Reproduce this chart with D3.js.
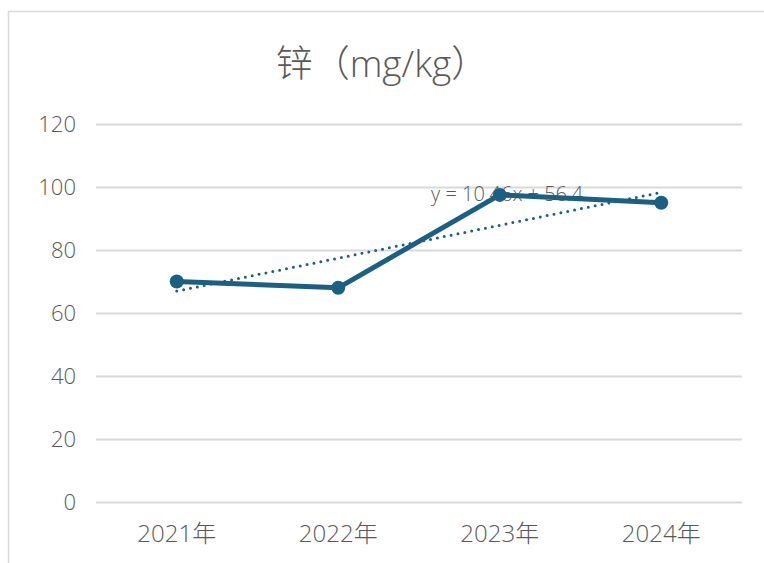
<!DOCTYPE html>
<html><head><meta charset="utf-8">
<script src="https://cdn.jsdelivr.net/npm/d3@7"></script>
<style>body{margin:0;background:#fff;}svg{display:block;}</style>
</head><body>
<script>
const categories = ["2021年","2022年","2023年","2024年"];
const values = [70, 68, 97.5, 95];
const yTicks = [0,20,40,60,80,100,120];
const title = "锌（mg/kg）";
const trendLabel = "y = 10.46x + 56.4";

const W=764,H=563;
const svg=d3.select("body").append("svg").attr("width",W).attr("height",H);
svg.append("rect").attr("x",8.5).attr("y",11.5).attr("width",W+20).attr("height",H+20)
  .attr("fill","#fff").attr("stroke","#d9d9d9").attr("stroke-width",1.5);

const x=d3.scaleBand().domain(categories).range([96,742]);
const y=d3.scaleLinear().domain([0,120]).range([502,124]);
const font="'Open Sans','Noto Sans CJK SC',sans-serif";

svg.append("text").attr("x",382).attr("y",77).attr("text-anchor","middle")
  .attr("font-family",font).attr("font-size",37).attr("font-weight",300).attr("fill","#595959").text(title);

const ya=svg.append("g").attr("transform","translate(96,0)")
  .call(d3.axisLeft(y).tickValues(yTicks).tickSize(-646).tickPadding(20));
ya.select(".domain").remove();
ya.selectAll(".tick line").attr("stroke","#d9d9d9").attr("stroke-width",2);
ya.selectAll(".tick text").attr("font-family",font).attr("font-size",22).attr("font-weight",300).attr("fill","#595959");

const xa=svg.append("g").attr("transform","translate(0,502)")
  .call(d3.axisBottom(x).tickSize(0).tickPadding(23));
xa.select(".domain").remove();
xa.selectAll(".tick text").attr("font-family",font).attr("font-size",24).attr("font-weight",300).attr("fill","#595959");

const cx=d=>x(d)+x.bandwidth()/2;
const xs=values.map((d,i)=>i+1);
const mx=d3.mean(xs), my=d3.mean(values);
const slope=d3.sum(xs.map((xi,i)=>(xi-mx)*(values[i]-my)))/d3.sum(xs.map(xi=>(xi-mx)**2));
const icpt=my-slope*mx;
const color="#1b5f82";

svg.append("text").attr("x",431).attr("y",201).attr("font-family",font).attr("font-size",20)
  .attr("font-weight",300).attr("fill","#595959").text(trendLabel);

svg.append("line").attr("x1",cx(categories[0])).attr("x2",cx(categories[3]))
  .attr("y1",y(icpt+slope*1)).attr("y2",y(icpt+slope*4))
  .attr("stroke",color).attr("stroke-width",3).attr("stroke-dasharray","0 7").attr("stroke-linecap","round");

const line=d3.line().x((d,i)=>cx(categories[i])).y(d=>y(d));
svg.append("path").datum(values).attr("d",line).attr("fill","none").attr("stroke",color)
  .attr("stroke-width",5).attr("stroke-linejoin","round");
svg.selectAll("circle.pt").data(values).enter().append("circle")
  .attr("cx",(d,i)=>cx(categories[i])).attr("cy",d=>y(d)).attr("r",7).attr("fill",color);
</script>
</body></html>
